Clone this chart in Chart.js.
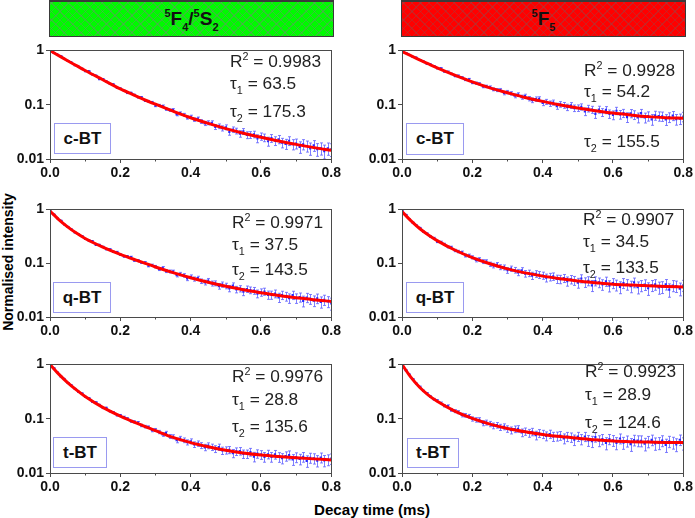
<!DOCTYPE html>
<html>
<head>
<meta charset="utf-8">
<script src="https://cdn.jsdelivr.net/npm/chart.js@4.4.1/dist/chart.umd.min.js"></script>
<style>
  body { margin: 0; background: #fff; font-family: "Liberation Sans", Arial, sans-serif; }
  #page { position: relative; width: 695px; height: 518px; overflow: hidden; }
  #page canvas { position: absolute; }
  .head {
    position: absolute; top: 0; height: 37px; width: 285px; box-sizing: border-box;
    border: 1px solid #3a3a3a; border-top-width: 2px;
    font-weight: bold; font-size: 19px; text-align: center; line-height: 34px; color: #111;
  }
  .green {
    background-color: #00fa00;
    background-image:
      repeating-linear-gradient(45deg, rgba(110,140,110,0.45) 0 1px, transparent 1px 6px),
      repeating-linear-gradient(-45deg, rgba(110,140,110,0.45) 0 1px, transparent 1px 6px);
  }
  .red {
    background-color: #ff0000;
    background-image:
      repeating-linear-gradient(45deg, rgba(150,70,70,0.45) 0 1px, transparent 1px 6px),
      repeating-linear-gradient(-45deg, rgba(150,70,70,0.45) 0 1px, transparent 1px 6px);
  }
  .up { font-size: 11px; position: relative; top: -8px; }
  .dn { font-size: 11px; position: relative; top: 6px; }
  .note { position: absolute; font-size: 16px; line-height: 18px; color: #222; white-space: nowrap;
          transform: scaleX(1.08); transform-origin: left center; }
  .note .up { font-size: 10px; top: -7px; }
  .note .dn { font-size: 10px; top: 5px; }
  .tag { position: absolute; box-sizing: border-box; border: 1px solid #9a9af0; background: #fff;
         font-weight: bold; font-size: 17px; text-align: center; color: #111; }
  .ytitle { position: absolute; left: 8px; top: 262px; font-weight: bold; font-size: 14px;
            transform: translate(-50%, -50%) rotate(-90deg); white-space: nowrap; }
  .xtitle { position: absolute; left: 372px; top: 510px; font-weight: bold; font-size: 14px;
            transform: translate(-50%, -50%) scaleX(1.08); white-space: nowrap; }
</style>
</head>
<body>
<div id="page">
  <div class="head green" style="left:49px"><span class="up">5</span>F<span class="dn">4</span>/<span class="up">5</span>S<span class="dn">2</span></div>
  <div class="head red" style="left:401px"><span class="up">5</span>F<span class="dn">5</span></div>
  <div class="ytitle">Normalised intensity</div>
  <div class="xtitle">Decay time (ms)</div>
</div>
<script>
// decay time axis (ms) for the measured points
const timeMs = [0.00,0.01,0.02,0.03,0.04,0.05,0.06,0.07,0.08,0.09,
  0.10,0.11,0.12,0.13,0.14,0.15,0.16,0.17,0.18,0.19,
  0.20,0.21,0.22,0.23,0.24,0.25,0.26,0.27,0.28,0.29,
  0.30,0.31,0.32,0.33,0.34,0.35,0.36,0.37,0.38,0.39,
  0.40,0.41,0.42,0.43,0.44,0.45,0.46,0.47,0.48,0.49,
  0.50,0.51,0.52,0.53,0.54,0.55,0.56,0.57,0.58,0.59,
  0.60,0.61,0.62,0.63,0.64,0.65,0.66,0.67,0.68,0.69,
  0.70,0.71,0.72,0.73,0.74,0.75,0.76,0.77,0.78,0.79,
  0.80];

// measured decays, 5F4/5S2 (green) and 5F5 (red) emission
const cbtGreen = [1.0,0.902,0.843,0.784,0.698,0.643,0.604,0.536,0.509,0.464,
  0.414,0.415,0.361,0.344,0.295,0.297,0.269,0.241,0.237,0.205,
  0.199,0.181,0.164,0.165,0.1515,0.137,0.1375,0.119,0.116,0.111,
  0.0959,0.0975,0.0947,0.0828,0.0793,0.0805,0.0664,0.0699,0.0652,0.0581,
  0.0601,0.0532,0.0553,0.0491,0.0453,0.0466,0.0465,0.0389,0.0402,0.0368,
  0.0385,0.0314,0.0349,0.0329,0.0292,0.0323,0.0277,0.0279,0.0285,0.0239,
  0.0261,0.0248,0.0212,0.0242,0.0217,0.0231,0.0200,0.0190,0.0217,0.0187,
  0.0193,0.0167,0.0187,0.0174,0.0157,0.0178,0.0152,0.0158,0.0140,0.0157,
  0.0151];
const cbtRed = [0.98,0.898,0.828,0.759,0.735,0.665,0.631,0.570,0.555,0.515,
  0.469,0.468,0.410,0.405,0.369,0.337,0.341,0.316,0.289,0.293,
  0.255,0.250,0.243,0.217,0.217,0.210,0.192,0.186,0.187,0.164,
  0.171,0.162,0.146,0.154,0.138,0.144,0.1295,0.121,0.127,0.128,
  0.108,0.1133,0.105,0.1097,0.0943,0.1019,0.0978,0.0898,0.0972,0.0867,
  0.0871,0.0915,0.0749,0.0853,0.0814,0.0679,0.0817,0.0726,0.0802,0.0679,
  0.0648,0.0775,0.0661,0.0700,0.0590,0.0694,0.0653,0.0582,0.0698,0.0580,
  0.0618,0.0538,0.0637,0.0617,0.0612,0.0535,0.0589,0.0629,0.0540,0.0551,
  0.0604];
const qbtGreen = [0.98,0.809,0.688,0.622,0.528,0.473,0.430,0.375,0.349,0.321,
  0.282,0.265,0.259,0.219,0.219,0.2015,0.182,0.181,0.1623,0.1618,
  0.1445,0.1342,0.1336,0.1302,0.1125,0.1121,0.1031,0.1028,0.0899,0.0915,
  0.0864,0.0775,0.0819,0.0714,0.0702,0.0698,0.0601,0.0630,0.0595,0.0519,
  0.0561,0.0509,0.0527,0.0464,0.0439,0.0475,0.0421,0.0424,0.0374,0.0402,
  0.0379,0.0339,0.0385,0.0326,0.0337,0.0294,0.0331,0.0316,0.0309,0.0272,
  0.0288,0.0298,0.0258,0.0258,0.0272,0.0231,0.0256,0.0242,0.0224,0.0256,
  0.0224,0.0234,0.0199,0.0230,0.0217,0.0201,0.0222,0.0191,0.0209,0.0194,
  0.0179];
const qbtRed = [0.95,0.796,0.664,0.568,0.510,0.453,0.3875,0.356,0.316,0.294,
  0.250,0.2476,0.2261,0.2003,0.1981,0.1723,0.1648,0.1591,0.1391,0.1385,
  0.1287,0.1148,0.1180,0.1075,0.1071,0.0957,0.0907,0.0940,0.0848,0.0836,
  0.0738,0.0793,0.0744,0.0676,0.0735,0.0641,0.0653,0.0588,0.0635,0.0610,
  0.0592,0.0537,0.0557,0.0569,0.0509,0.0505,0.0527,0.0464,0.0501,0.0477,
  0.0433,0.0519,0.0444,0.0470,0.0387,0.0468,0.0440,0.0403,0.0460,0.0382,
  0.0427,0.0394,0.0361,0.0428,0.0405,0.0372,0.0439,0.0358,0.0385,0.0401,
  0.0342,0.0387,0.0404,0.0355,0.0363,0.0407,0.0323,0.0385,0.0375,0.0337,
  0.0390];
const tbtGreen = [1.0,0.855,0.722,0.600,0.541,0.460,0.416,0.357,0.316,0.294,
  0.254,0.239,0.2052,0.2009,0.1796,0.1573,0.1582,0.1372,0.1313,0.1160,
  0.1156,0.1073,0.1006,0.0897,0.0876,0.0846,0.0751,0.0714,0.0699,0.0614,
  0.0621,0.0569,0.0513,0.0545,0.0472,0.0466,0.0400,0.0433,0.0402,0.0368,
  0.0385,0.0335,0.0349,0.0322,0.0297,0.0319,0.0300,0.0278,0.0300,0.0259,
  0.0263,0.0267,0.0231,0.0250,0.0254,0.0225,0.0225,0.0244,0.0200,0.0227,
  0.0218,0.0198,0.0222,0.0198,0.0220,0.0197,0.0187,0.0205,0.0215,0.0178,
  0.0195,0.0181,0.0198,0.0167,0.0191,0.0186,0.0169,0.0193,0.0170,0.0176,
  0.0184];
const tbtRed = [1.0,0.785,0.659,0.538,0.446,0.388,0.328,0.294,0.257,0.2277,
  0.2152,0.1942,0.1735,0.1712,0.1455,0.138,0.1323,0.117,0.1157,0.1108,
  0.0992,0.0954,0.0955,0.0831,0.0851,0.0802,0.0742,0.0760,0.0697,0.0713,
  0.0651,0.0614,0.0644,0.0654,0.0556,0.0584,0.0545,0.0574,0.0497,0.0541,
  0.0521,0.0481,0.0524,0.0471,0.0477,0.0489,0.0434,0.0469,0.0456,0.0410,
  0.0470,0.0420,0.0469,0.0399,0.0384,0.0460,0.0395,0.0421,0.0357,0.0422,
  0.0399,0.0358,0.0433,0.0363,0.0390,0.0340,0.0405,0.0394,0.0393,0.0345,
  0.0381,0.0408,0.0352,0.0359,0.0395,0.0329,0.0383,0.0365,0.0337,0.0410,
  0.0354];

// fitted curves (red lines)
const fitTime = [0,0.025,0.05,0.075,0.1,0.15,0.2,0.25,0.3,0.35,0.4,0.45,0.5,0.55,0.6,0.65,0.7,0.75,0.8];
const cbtGreenFit = [1.0,0.80,0.646,0.525,0.427,0.288,0.195,0.140,0.102,0.0759,0.0575,0.0452,0.0363,0.0299,0.0251,0.0214,0.0186,0.0162,0.0145];
const cbtRedFit = [0.955,0.80,0.668,0.565,0.479,0.351,0.263,0.204,0.166,0.136,0.115,0.0989,0.0871,0.0776,0.070,0.0646,0.0603,0.0578,0.0562];
const qbtGreenFit = [0.933,0.646,0.473,0.363,0.288,0.1995,0.146,0.111,0.0851,0.0668,0.0537,0.0442,0.0372,0.032,0.0282,0.0251,0.0229,0.0209,0.0195];
const qbtRedFit = [0.912,0.617,0.442,0.335,0.263,0.176,0.127,0.0977,0.0785,0.0661,0.0575,0.0513,0.0468,0.0435,0.0407,0.0392,0.038,0.037,0.0363];
const tbtGreenFit = [1.0,0.661,0.462,0.339,0.257,0.162,0.112,0.0813,0.0603,0.0452,0.0363,0.0305,0.0263,0.0234,0.0214,0.0201,0.0191,0.0182,0.0174];
const tbtRedFit = [1.0,0.582,0.380,0.272,0.209,0.138,0.101,0.0794,0.0661,0.0575,0.0513,0.0468,0.0437,0.0409,0.0389,0.0378,0.0372,0.0366,0.0363];

// error bar half height per panel (absolute)
const errAbs = [0.004, 0.012, 0.0045, 0.009, 0.004, 0.009];

// fit results and sample names, panel order: row by row, left then right
const rSquared = ['0.9983', '0.9928', '0.9971', '0.9907', '0.9976', '0.9923'];
const tau1 = ['63.5', '54.2', '37.5', '34.5', '28.8', '28.9'];
const tau2 = ['175.3', '155.5', '143.5', '133.5', '135.6', '124.6'];
const samples = ['c-BT', 'c-BT', 'q-BT', 'q-BT', 't-BT', 't-BT'];

const yTicks = [0.01, 0.1, 1];
const xTicks = [0, 0.2, 0.4, 0.6, 0.8];
const xMinor = [0.1, 0.3, 0.5, 0.7];

const decays = [cbtGreen, cbtRed, qbtGreen, qbtRed, tbtGreen, tbtRed];
const fits = [cbtGreenFit, cbtRedFit, qbtGreenFit, qbtRedFit, tbtGreenFit, tbtRedFit];

// layout (pixels): plot areas [left, top, right, bottom]
const areas = [[50,48,332,159],[402,48,684,159],[50,207,332,317],[402,207,684,317],[50,362,332,473],[402,362,684,473]];
// note block: left, top of R2 line, tau1 line, tau2 line
const notePos = [[230,53,75,103],[584,62,83,133],[232,214,236,261],[583,211,233,259],[232,368,391,418],[585,363,386,414]];
// sample label box: left, top, width, height
const tagPos = [[54,123,57,31],[406,123,58,32],[53,282,58,31],[406,282,58,31],[53,437,54,31],[407,438,52,30]];

const page = document.getElementById('page');

// frame, minor ticks and error bars
const decorations = {
  id: 'decorations',
  beforeDatasetsDraw(chart, args, opts) {
    const ctx = chart.ctx;
    const x = chart.scales.x, y = chart.scales.y;
    const pts = chart.data.datasets[1].data;
    ctx.save();
    ctx.beginPath();
    ctx.rect(chart.chartArea.left, chart.chartArea.top, chart.chartArea.width, chart.chartArea.height);
    ctx.clip();
    ctx.strokeStyle = 'rgba(95,95,255,0.8)';
    ctx.lineWidth = 1;
    ctx.beginPath();
    pts.forEach(p => {
      const px = Math.round(x.getPixelForValue(p.x)) + 0.5;
      const hi = y.getPixelForValue(p.y + opts.err);
      const lo = y.getPixelForValue(Math.max(p.y - opts.err, 0.002));
      ctx.moveTo(px, hi); ctx.lineTo(px, lo);
      ctx.moveTo(px - 1.5, hi); ctx.lineTo(px + 1.5, hi);
      ctx.moveTo(px - 1.5, lo); ctx.lineTo(px + 1.5, lo);
    });
    ctx.stroke();
    ctx.restore();
  },
  afterDraw(chart) {
    const ctx = chart.ctx;
    const a = chart.chartArea;
    const x = chart.scales.x;
    ctx.save();
    ctx.strokeStyle = '#4a4a4a';
    ctx.lineWidth = 1;
    ctx.strokeRect(Math.round(a.left) + 0.5, Math.round(a.top) + 0.5, Math.round(a.width), Math.round(a.height));
    ctx.beginPath();
    xMinor.forEach(v => {
      const px = Math.round(x.getPixelForValue(v)) + 0.5;
      ctx.moveTo(px, a.bottom); ctx.lineTo(px, a.bottom + 2.5);
    });
    ctx.stroke();
    ctx.restore();
  }
};

areas.forEach((ar, i) => {
  const padL = 48, padT = 8, padR = 11, padB = 28;
  const w = ar[2] - ar[0] + padL + padR;
  const h = ar[3] - ar[1] + padT + padB;
  const cv = document.createElement('canvas');
  cv.width = w; cv.height = h;
  cv.style.left = (ar[0] - padL) + 'px';
  cv.style.top = (ar[1] - padT) + 'px';
  cv.style.width = w + 'px';
  cv.style.height = h + 'px';
  page.appendChild(cv);

  const measured = timeMs.map((t, k) => ({ x: t, y: decays[i][k] }));
  const fitted = fitTime.map((t, k) => ({ x: t, y: fits[i][k] }));

  new Chart(cv.getContext('2d'), {
    type: 'line',
    data: {
      datasets: [
        { data: fitted, borderColor: '#ff0000', borderWidth: 3, pointRadius: 0,
          cubicInterpolationMode: 'monotone', order: 0 },
        { data: measured, showLine: false, pointStyle: 'rect', pointRadius: 1.5,
          pointBackgroundColor: '#2525ff', pointBorderWidth: 0, order: 1 }
      ]
    },
    options: {
      responsive: false,
      animation: false,
      events: [],
      layout: { padding: { left: 0, top: padT, right: padR, bottom: 0 } },
      plugins: { legend: { display: false }, tooltip: { enabled: false }, decorations: { err: errAbs[i] } },
      scales: {
        x: {
          type: 'linear', min: 0, max: 0.8,
          afterBuildTicks: s => { s.ticks = xTicks.map(v => ({ value: v })); },
          afterFit: s => { s.height = padB; },
          grid: { drawOnChartArea: false, drawTicks: true, tickLength: 4, color: '#4a4a4a' },
          border: { display: true, color: '#4a4a4a' },
          ticks: { padding: 2, color: '#111', maxRotation: 0, font: { family: 'Liberation Sans', size: 14, weight: 'bold' },
                   callback: v => v.toFixed(1) }
        },
        y: {
          type: 'logarithmic', min: 0.01, max: 1,
          afterBuildTicks: s => { s.ticks = yTicks.map(v => ({ value: v })); },
          afterFit: s => { s.width = padL; },
          grid: { drawOnChartArea: false, drawTicks: true, tickLength: 4, color: '#4a4a4a' },
          border: { display: true, color: '#4a4a4a' },
          ticks: { padding: 2, color: '#111', font: { family: 'Liberation Sans', size: 14, weight: 'bold' },
                   callback: v => String(v) }
        }
      }
    },
    plugins: [decorations]
  });

  const n = notePos[i];
  const lines = [
    [n[1], 'R<span class="up">2</span> = ' + rSquared[i]],
    [n[2], '&tau;<span class="dn">1</span> = ' + tau1[i]],
    [n[3], '&tau;<span class="dn">2</span> = ' + tau2[i]]
  ];
  lines.forEach(l => {
    const d = document.createElement('div');
    d.className = 'note';
    d.style.left = n[0] + 'px';
    d.style.top = l[0] + 'px';
    d.innerHTML = l[1];
    page.appendChild(d);
  });

  const t = tagPos[i];
  const tag = document.createElement('div');
  tag.className = 'tag';
  tag.style.left = t[0] + 'px';
  tag.style.top = t[1] + 'px';
  tag.style.width = t[2] + 'px';
  tag.style.height = t[3] + 'px';
  tag.style.lineHeight = (t[3] - 2) + 'px';
  tag.textContent = samples[i];
  page.appendChild(tag);
});
</script>
</body>
</html>
